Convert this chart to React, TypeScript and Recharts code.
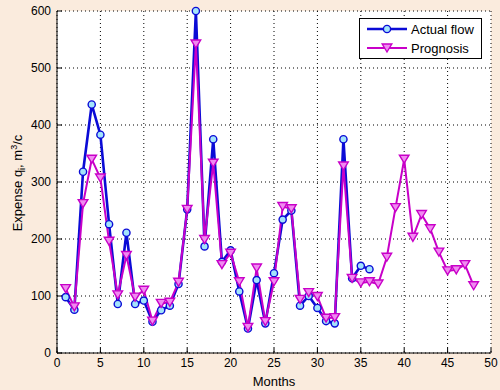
import { LineChart, Line, XAxis, YAxis, CartesianGrid, Legend } from "recharts";

// months on the x axis
const months = [
  1, 2, 3, 4, 5, 6, 7, 8, 9, 10, 11, 12, 13, 14, 15, 16, 17, 18, 19, 20, 21, 22, 23, 24,
  25, 26, 27, 28, 29, 30, 31, 32, 33, 34, 35, 36, 37, 38, 39, 40, 41, 42, 43, 44, 45, 46, 47, 48,
];

// measured flow, only known for the first 36 months
const actualFlow = [
  98, 76, 318, 436, 383, 226, 86, 211, 86, 92, 55, 75, 83, 121, 252, 600, 187, 375, 160, 180,
  108, 43, 128, 52, 140, 234, 250, 83, 100, 79, 56, 52, 375, 131, 153, 147,
];

const prognosis = [
  113, 81, 262, 340, 307, 196, 102, 171, 98, 110, 56, 87, 89, 124, 252, 542, 199, 333, 155, 175,
  125, 45, 149, 55, 125, 257, 253, 94, 106, 99, 61, 62, 328, 131, 123, 125, 121, 168, 255, 340,
  203, 243, 218, 177, 144, 146, 155, 118,
];

const xTicks = [0, 5, 10, 15, 20, 25, 30, 35, 40, 45, 50];
const yTicks = [0, 100, 200, 300, 400, 500, 600];

const data = months.map((m, i) => ({
  month: m,
  actual: i < actualFlow.length ? actualFlow[i] : null,
  prognosis: prognosis[i],
}));

const BLUE = "#0b0bd6";
const CYAN = "#a3e4fb";
const MAGENTA = "#c800c8";
const PINK = "#f08af0";

const CircleDot = (props: any) => {
  const { cx, cy, value } = props;
  if (cx == null || cy == null || value == null) return <g />;
  return <circle cx={cx} cy={cy} r={3.6} fill={CYAN} stroke={BLUE} strokeWidth={1.4} />;
};

const TriangleDot = (props: any) => {
  const { cx, cy, value } = props;
  if (cx == null || cy == null || value == null) return <g />;
  return (
    <path
      d={`M${cx - 4.8},${cy - 4} L${cx + 4.8},${cy - 4} L${cx},${cy + 4} Z`}
      fill={PINK}
      stroke={MAGENTA}
      strokeWidth={1.4}
    />
  );
};

const NoTick = () => <g />;

const YLabel = () => (
  <text transform="translate(22,183) rotate(-90)" x={0} y={0} textAnchor="middle" fontSize={13} fill="#000">
    Expense q<tspan dy={3} fontSize={9}>i</tspan>
    <tspan dy={-3}>, m</tspan>
    <tspan dy={-5} fontSize={9}>3</tspan>
    <tspan dy={5}>/c</tspan>
  </text>
);

const LegendBox = () => (
  <svg width={123} height={41} style={{ display: "block" }}>
    <rect x={0.5} y={0.5} width={122} height={40} fill="#fff" stroke="#000" />
    <line x1={8} y1={11} x2={48} y2={11} stroke={BLUE} strokeWidth={2.5} />
    <circle cx={28} cy={11} r={3.6} fill={CYAN} stroke={BLUE} strokeWidth={1.4} />
    <text x={52} y={15.5} fontSize={13} fill="#000">
      Actual flow
    </text>
    <line x1={8} y1={30} x2={48} y2={30} stroke={MAGENTA} strokeWidth={2} />
    <path d="M23.2,26 L32.8,26 L28,34 Z" fill={PINK} stroke={MAGENTA} strokeWidth={1.4} />
    <text x={52} y={34.5} fontSize={13} fill="#000">
      Prognosis
    </text>
  </svg>
);

export default function App() {
  return (
    <div
      style={{
        position: "absolute",
        left: 0,
        top: 0,
        width: 500,
        height: 390,
        background: "#faebdd",
        fontFamily: '"Liberation Sans", Arial, sans-serif',
      }}
    >
      <LineChart width={500} height={390} data={data} margin={{ top: 11, right: 9, bottom: 0, left: 0 }}>
        <CartesianGrid fill="#fff" stroke="#000" strokeDasharray="1 3" />

        <XAxis
          dataKey="month"
          type="number"
          domain={[0, 50]}
          ticks={xTicks}
          height={37}
          stroke="#000"
          tickSize={-5}
          tickMargin={10}
          tick={{ fill: "#000", fontSize: 12 }}
          label={{ value: "Months", position: "insideBottom", offset: 4, fill: "#000", fontSize: 13 }}
        />
        <XAxis
          xAxisId="top"
          orientation="top"
          type="number"
          domain={[0, 50]}
          ticks={xTicks}
          allowDataOverflow
          height={0}
          mirror
          stroke="#000"
          tickSize={5}
          tick={<NoTick />}
        />
        <YAxis
          type="number"
          domain={[0, 600]}
          ticks={yTicks}
          width={57}
          stroke="#000"
          tickSize={-5}
          tickMargin={11}
          tick={{ fill: "#000", fontSize: 12 }}
          label={<YLabel />}
        />
        <YAxis
          yAxisId="right"
          orientation="right"
          type="number"
          domain={[0, 600]}
          ticks={yTicks}
          allowDataOverflow
          width={0}
          mirror
          stroke="#000"
          tickSize={5}
          tick={<NoTick />}
        />

        <Line
          dataKey="actual"
          stroke={BLUE}
          strokeWidth={2.6}
          dot={<CircleDot />}
          activeDot={false}
          isAnimationActive={false}
        />
        <Line
          dataKey="prognosis"
          stroke={MAGENTA}
          strokeWidth={2}
          dot={<TriangleDot />}
          activeDot={false}
          isAnimationActive={false}
        />

        <Legend
          layout="horizontal"
          verticalAlign="middle"
          align="center"
          content={<LegendBox />}
          wrapperStyle={{ left: 359, top: 18, width: 123, height: 41 }}
        />
      </LineChart>
    </div>
  );
}
